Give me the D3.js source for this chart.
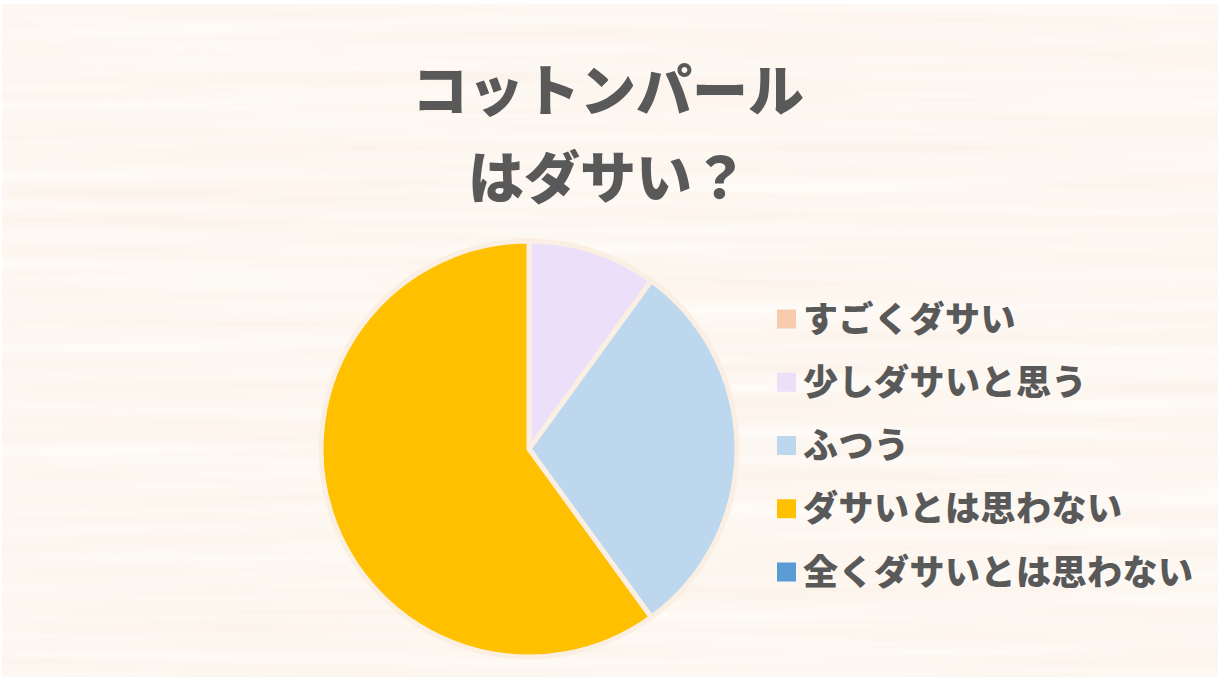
<!DOCTYPE html>
<html>
<head>
<meta charset="utf-8">
<script src="https://cdnjs.cloudflare.com/ajax/libs/d3/7.8.5/d3.min.js"></script>
<style>
  html, body { margin: 0; padding: 0; background: #ffffff; }
  svg { display: block; }
  text { font-family: "Noto Sans CJK JP", "Noto Sans", sans-serif; font-weight: 900; fill: #595959; }
</style>
</head>
<body>
<svg id="chart" width="1228" height="682"></svg>
<script>
// chart data
var titleLines = ["コットンパール", "はダサい？"];
var categories = ["すごくダサい", "少しダサいと思う", "ふつう", "ダサいとは思わない", "全くダサいとは思わない"];
var values = [0, 10, 30, 60, 0];
var colors = ["#f8cbad", "#ecdff9", "#bdd7ee", "#ffc000", "#5b9bd5"];

var svg = d3.select("#chart");

// wood grain background
var defs = svg.append("defs");
var grain = defs.append("filter").attr("id", "grain")
    .attr("x", 0).attr("y", 0).attr("width", "100%").attr("height", "100%");
grain.append("feTurbulence")
    .attr("type", "fractalNoise")
    .attr("baseFrequency", "0.002 0.07")
    .attr("numOctaves", 3)
    .attr("seed", 7);
grain.append("feColorMatrix")
    .attr("type", "matrix")
    .attr("values", "0.04 0 0 0 0.965  0.10 0 0 0 0.882  0.16 0 0 0 0.80  0 0 0 0 1");

svg.append("rect")
    .attr("x", 2).attr("y", 4)
    .attr("width", 1216).attr("height", 673)
    .attr("fill", "#f9eee2")
    .attr("filter", "url(#grain)");

// title
svg.selectAll("text.title")
    .data(titleLines)
    .enter().append("text")
    .attr("class", "title")
    .attr("x", 608)
    .attr("y", function(d, i) { return 111 + i * 87; })
    .attr("text-anchor", "middle")
    .style("font-size", "56px")
    .text(function(d) { return d; });

// pie
var cx = 529, cy = 449, radius = 208;
var pie = d3.pie().sort(null).value(function(d) { return d.value; });
var arc = d3.arc().innerRadius(0).outerRadius(radius);

var slices = pie(categories.map(function(c, i) {
    return { name: c, value: values[i], color: colors[i] };
})).filter(function(d) { return d.data.value > 0; });

var g = svg.append("g").attr("transform", "translate(" + cx + "," + cy + ")");
g.selectAll("path")
    .data(slices)
    .enter().append("path")
    .attr("d", arc)
    .attr("fill", function(d) { return d.data.color; })
    .attr("stroke", "#fbefe3")
    .attr("stroke-width", 5)
    .attr("stroke-linejoin", "round");

// legend
var legendY = d3.scalePoint().domain(categories).range([319, 572]);
var legend = svg.selectAll("g.legend")
    .data(categories)
    .enter().append("g")
    .attr("class", "legend")
    .attr("transform", function(d) { return "translate(777," + legendY(d) + ")"; });

legend.append("rect")
    .attr("x", 0).attr("y", -9.5)
    .attr("width", 19).attr("height", 19)
    .attr("fill", function(d, i) { return colors[i]; });

legend.append("text")
    .attr("x", 26)
    .attr("y", 0)
    .attr("dy", "0.36em")
    .style("font-size", "35px")
    .style("letter-spacing", "0.5px")
    .text(function(d) { return d; });
</script>
</body>
</html>
